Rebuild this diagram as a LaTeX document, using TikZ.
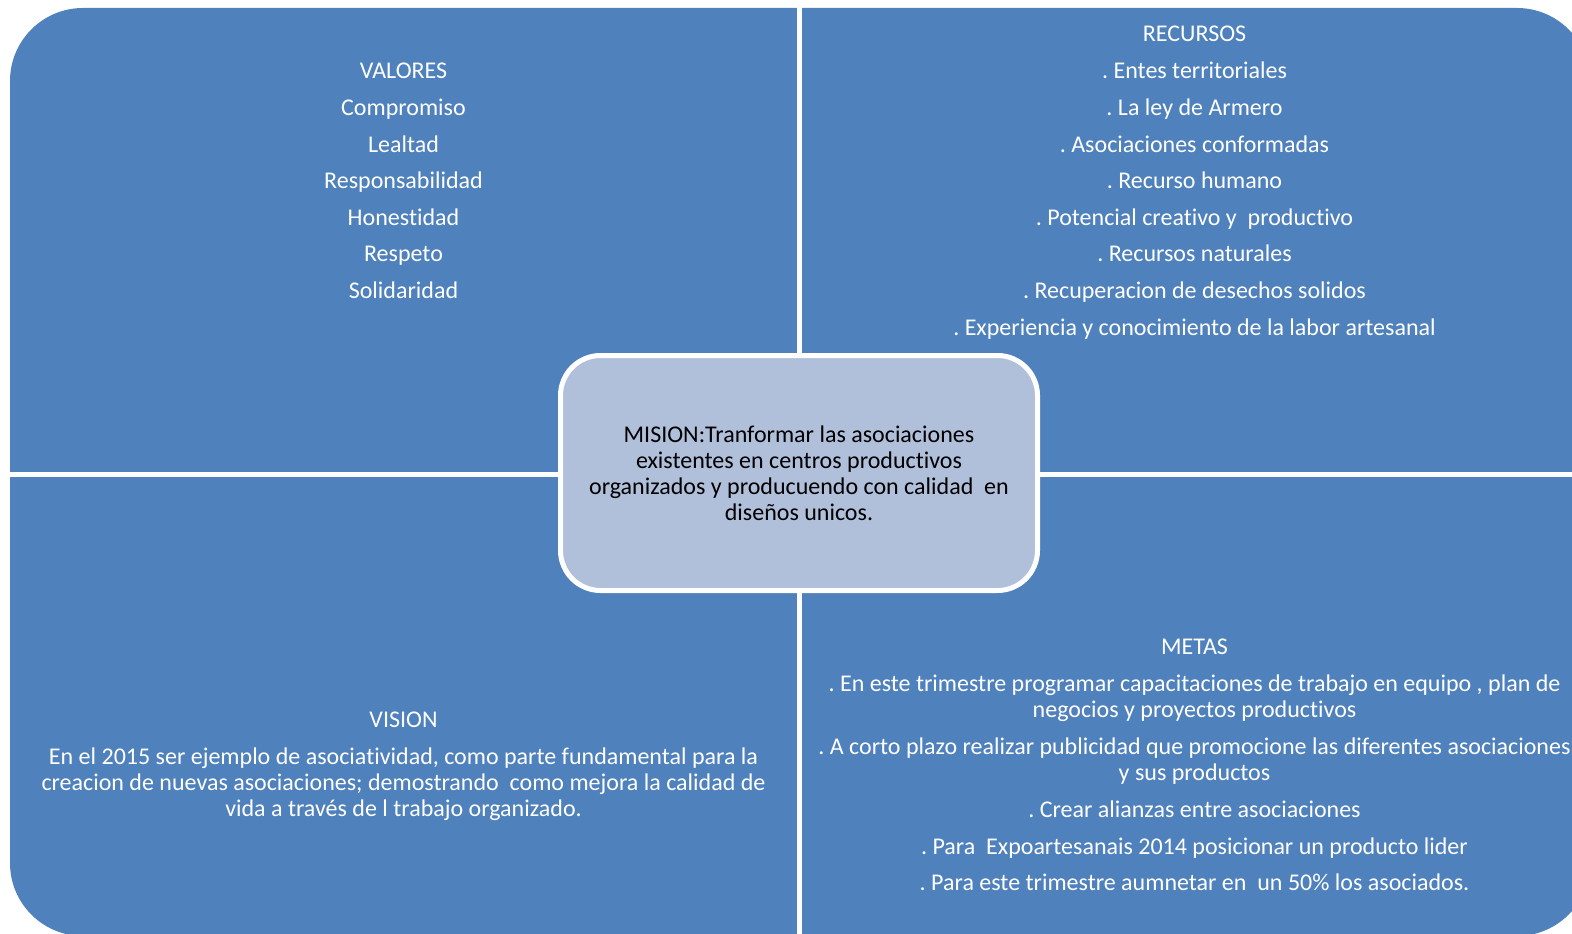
\documentclass[tikz,border=0pt]{standalone}
\usepackage{fontspec}
\setmainfont{Carlito}[Ligatures=NoCommon]
\frenchspacing
\definecolor{qblue}{HTML}{4F81BD}
\definecolor{mfill}{HTML}{B0BFDA}
\begin{document}
\begin{tikzpicture}[x=1pt,y=-1pt,
  txt/.style={text=white,anchor=base,inner sep=0pt,font=\fontsize{24}{26}\selectfont},
  mision/.style={draw=white,line width=5pt,fill=mfill,rounded corners=40pt,
    minimum width=477pt,minimum height=235pt,inner sep=0pt,align=center,
    text=black,font=\fontsize{24}{26}\selectfont}]
\useasboundingbox (0,0) rectangle (1572,934);
\clip (0,0) rectangle (1572,934);
\fill[qblue,rounded corners=73pt] (10,8) rectangle (1590,936);
\draw[white,line width=5pt] (799.5,0) -- (799.5,934);
\draw[white,line width=5pt] (0,474.5) -- (1572,474.5);
% VALORES
\node[txt] (v0) at (403.5,78) {VALORES};
\node[txt] (v1) at (403.5,115) {Compromiso};
\node[txt] (v2) at (403.5,152) {Lealtad};
\node[txt] (v3) at (403.5,188) {Responsabilidad};
\node[txt] (v4) at (403.5,225) {Honestidad};
\node[txt] (v5) at (403.5,261) {Respeto};
\node[txt] (v6) at (403.5,298) {Solidaridad};
% RECURSOS
\node[txt] (r0) at (1194.5,42) {RECURSOS};
\node[txt] (r1) at (1194.5,78) {. Entes territoriales};
\node[txt] (r2) at (1194.5,115) {. La ley de Armero};
\node[txt] (r3) at (1194.5,152) {. Asociaciones conformadas};
\node[txt] (r4) at (1194.5,188) {. Recurso humano};
\node[txt] (r5) at (1194.5,225) {. Potencial creativo y~ productivo};
\node[txt] (r6) at (1194.5,261) {. Recursos naturales};
\node[txt] (r7) at (1194.5,298) {. Recuperacion de desechos solidos};
\node[txt] (r8) at (1194.5,335) {. Experiencia y conocimiento de la labor artesanal};
% VISION
\node[txt] (s0) at (403.5,727) {VISION};
\node[txt] (s1) at (403.5,764) {En el 2015 ser ejemplo de asociatividad, como parte fundamental para la};
\node[txt] (s2) at (403.5,790) {creacion de nuevas asociaciones; demostrando~ como mejora la calidad de};
\node[txt] (s3) at (403.5,816) {vida a través de l trabajo organizado.};
% METAS
\node[txt] (m0) at (1194.5,654) {METAS};
\node[txt] (m1) at (1194.5,691) {. En este trimestre programar capacitaciones de trabajo en equipo , plan de};
\node[txt] (m2) at (1194.5,717) {negocios y proyectos productivos};
\node[txt] (m3) at (1194.5,754) {. A corto plazo realizar publicidad que promocione las diferentes asociaciones};
\node[txt] (m4) at (1194.5,780) {y sus productos};
\node[txt] (m5) at (1194.5,817) {. Crear alianzas entre asociaciones};
\node[txt] (m6) at (1194.5,854) {. Para~ Expoartesanais 2014 posicionar un producto lider};
\node[txt] (m7) at (1194.5,890) {. Para este trimestre aumnetar en~ un 50\% los asociados.};
% MISION
\node[mision] (mis) at (799,473) {MISION:Tranformar las asociaciones\\existentes en centros productivos\\organizados y producuendo con calidad~ en\\diseños unicos.};
\end{tikzpicture}
\end{document}
